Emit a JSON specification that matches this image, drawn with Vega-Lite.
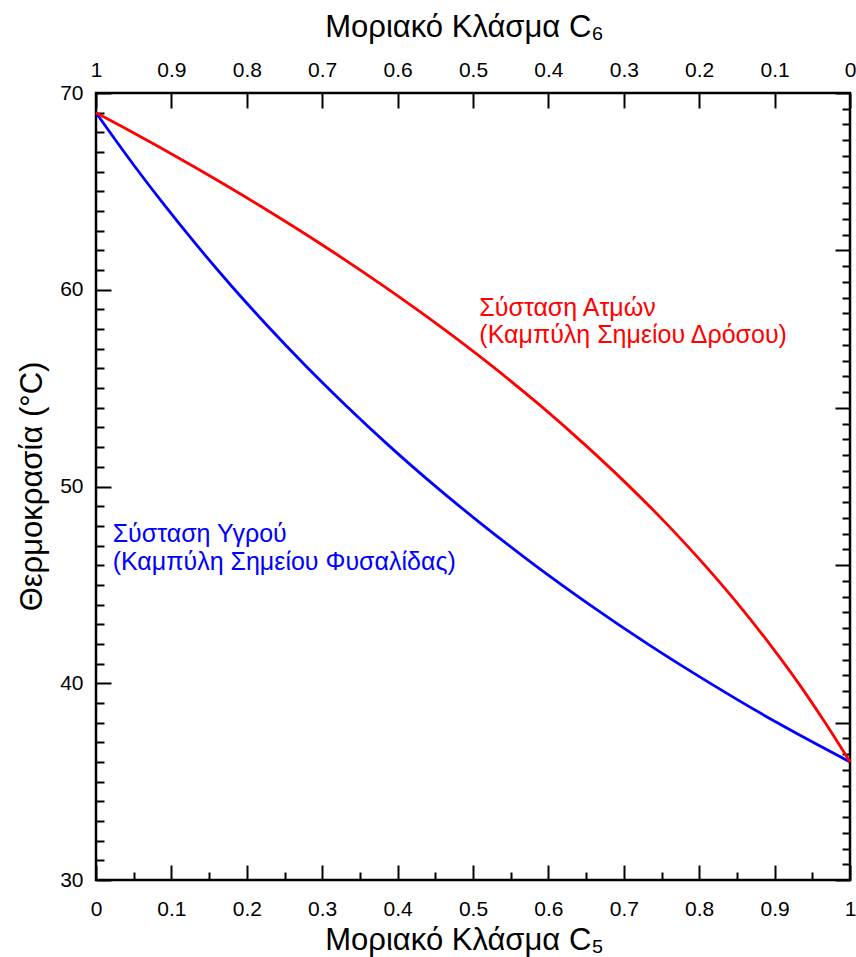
{
  "$schema": "https://vega.github.io/schema/vega-lite/v6.json",
  "width": 754,
  "height": 787,
  "autosize": {"type": "none"},
  "padding": {"left": 96, "top": 93, "right": 6, "bottom": 77},
  "background": "white",
  "config": {
    "view": {"stroke": "black", "strokeWidth": 2.5},
    "axis": {
      "labelFont": "Liberation Sans",
      "labelFontSize": 21,
      "labelColor": "black",
      "titleFont": "Liberation Sans",
      "titleFontSize": 31,
      "titleFontWeight": "normal",
      "titleColor": "black",
      "tickColor": "black",
      "tickWidth": 2,
      "domain": false,
      "grid": false,
      "labelFlush": false,
      "labelOverlap": false
    }
  },
  "datasets": {
    "curves": [
      {"C5": 0, "T": 69, "phase": "liquid"},
      {"C5": 0.0137, "T": 68.26, "phase": "liquid"},
      {"C5": 0.052, "T": 66.24, "phase": "liquid"},
      {"C5": 0.0924, "T": 64.22, "phase": "liquid"},
      {"C5": 0.135, "T": 62.2, "phase": "liquid"},
      {"C5": 0.18, "T": 60.18, "phase": "liquid"},
      {"C5": 0.2276, "T": 58.16, "phase": "liquid"},
      {"C5": 0.278, "T": 56.14, "phase": "liquid"},
      {"C5": 0.3314, "T": 54.12, "phase": "liquid"},
      {"C5": 0.3881, "T": 52.09, "phase": "liquid"},
      {"C5": 0.4484, "T": 50.07, "phase": "liquid"},
      {"C5": 0.5127, "T": 48.05, "phase": "liquid"},
      {"C5": 0.581, "T": 46.03, "phase": "liquid"},
      {"C5": 0.654, "T": 44.01, "phase": "liquid"},
      {"C5": 0.732, "T": 41.99, "phase": "liquid"},
      {"C5": 0.8159, "T": 39.97, "phase": "liquid"},
      {"C5": 0.9055, "T": 37.95, "phase": "liquid"},
      {"C5": 1, "T": 36, "phase": "liquid"},
      {"C5": 0, "T": 69, "phase": "vapor"},
      {"C5": 0.0362, "T": 68.26, "phase": "vapor"},
      {"C5": 0.1306, "T": 66.24, "phase": "vapor"},
      {"C5": 0.2196, "T": 64.22, "phase": "vapor"},
      {"C5": 0.3033, "T": 62.2, "phase": "vapor"},
      {"C5": 0.3816, "T": 60.18, "phase": "vapor"},
      {"C5": 0.4555, "T": 58.16, "phase": "vapor"},
      {"C5": 0.5246, "T": 56.14, "phase": "vapor"},
      {"C5": 0.5891, "T": 54.12, "phase": "vapor"},
      {"C5": 0.6494, "T": 52.09, "phase": "vapor"},
      {"C5": 0.7056, "T": 50.07, "phase": "vapor"},
      {"C5": 0.7581, "T": 48.05, "phase": "vapor"},
      {"C5": 0.8067, "T": 46.03, "phase": "vapor"},
      {"C5": 0.8518, "T": 44.01, "phase": "vapor"},
      {"C5": 0.8935, "T": 41.99, "phase": "vapor"},
      {"C5": 0.9323, "T": 39.97, "phase": "vapor"},
      {"C5": 0.9678, "T": 37.95, "phase": "vapor"},
      {"C5": 1, "T": 36, "phase": "vapor"}
    ],
    "labels": [
      {"C5": 0.5084, "T": 58.67, "text": "Σύσταση Ατμών", "phase": "vapor"},
      {"C5": 0.5084, "T": 57.28, "text": "(Καμπύλη Σημείου Δρόσου)", "phase": "vapor"},
      {"C5": 0.0221, "T": 47.2, "text": "Σύσταση Υγρού", "phase": "liquid"},
      {"C5": 0.0221, "T": 45.76, "text": "(Καμπύλη Σημείου Φυσαλίδας)", "phase": "liquid"}
    ],
    "dummy": [{"C5": 0, "r": 0}]
  },
  "layer": [
    {
      "data": {"name": "curves"},
      "mark": {"type": "line", "strokeWidth": 2.8, "interpolate": "monotone"},
      "encoding": {
        "x": {
          "field": "C5", "type": "quantitative",
          "scale": {"domain": [0, 1], "nice": false, "zero": false},
          "axis": {
            "orient": "bottom",
            "title": "Μοριακό Κλάσμα C₅",
            "titleBaseline": "alphabetic",
            "titleX": 368,
            "titleY": 69,
            "values": [0, 0.05, 0.1, 0.15, 0.2, 0.25, 0.3, 0.35, 0.4, 0.45, 0.5, 0.55, 0.6, 0.65, 0.7, 0.75, 0.8, 0.85, 0.9, 0.95, 1],
            "format": "~g",
            "labelExpr": "round(datum.value * 20) % 2 === 0 ? datum.label : ''",
            "tickSize": {"condition": {"test": "round(datum.value * 20) % 2 === 0", "value": -15}, "value": -8},
            "labelPadding": 33
          }
        },
        "y": {
          "field": "T", "type": "quantitative",
          "scale": {"domain": [30, 70], "nice": false, "zero": false},
          "axis": {
            "orient": "left",
            "title": "Θερμοκρασία (°C)",
            "titleBaseline": "alphabetic",
            "titleAngle": -90,
            "titleX": -55,
            "titleY": 393,
            "values": [30, 31, 32, 33, 34, 35, 36, 37, 38, 39, 40, 41, 42, 43, 44, 45, 46, 47, 48, 49, 50, 51, 52, 53, 54, 55, 56, 57, 58, 59, 60, 61, 62, 63, 64, 65, 66, 67, 68, 69, 70],
            "labelExpr": "datum.value % 10 === 0 ? datum.label : ''",
            "tickSize": {"condition": {"test": "datum.value % 10 === 0", "value": -15}, "value": -8},
            "labelPadding": 28
          }
        },
        "color": {
          "field": "phase", "type": "nominal",
          "scale": {"domain": ["vapor", "liquid"], "range": ["#ff0000", "#0000ff"]},
          "legend": null
        }
      }
    },
    {
      "data": {"name": "labels"},
      "mark": {"type": "text", "align": "left", "baseline": "alphabetic", "font": "Liberation Sans", "fontSize": 25},
      "encoding": {
        "x": {"field": "C5", "type": "quantitative", "scale": {"domain": [0, 1], "nice": false, "zero": false}, "axis": null},
        "y": {"field": "T", "type": "quantitative", "scale": {"domain": [30, 70], "nice": false, "zero": false}, "axis": null},
        "text": {"field": "text"},
        "color": {
          "field": "phase", "type": "nominal",
          "scale": {"domain": ["vapor", "liquid"], "range": ["#ff0000", "#0000ff"]},
          "legend": null
        }
      }
    },
    {
      "data": {"name": "dummy"},
      "mark": {"type": "point", "opacity": 0},
      "encoding": {
        "x": {
          "field": "C5", "type": "quantitative",
          "scale": {"domain": [0, 1], "nice": false, "zero": false},
          "axis": {
            "orient": "top",
            "title": "Μοριακό Κλάσμα C₆",
            "titleBaseline": "alphabetic",
            "titleX": 368,
            "titleY": -57,
            "values": [0, 0.1, 0.2, 0.3, 0.4, 0.5, 0.6, 0.7, 0.8, 0.9, 1],
            "labelExpr": "format(1 - datum.value, '~g')",
            "tickSize": -15,
            "labelPadding": 28
          }
        },
        "y": {
          "field": "r", "type": "quantitative",
          "scale": {"domain": [0, 1], "nice": false, "zero": false},
          "axis": {
            "orient": "right",
            "title": null,
            "labels": false,
            "values": [0, 0.02, 0.04, 0.06, 0.08, 0.1, 0.12, 0.14, 0.16, 0.18, 0.2, 0.22, 0.24, 0.26, 0.28, 0.3, 0.32, 0.34, 0.36, 0.38, 0.4, 0.42, 0.44, 0.46, 0.48, 0.5, 0.52, 0.54, 0.56, 0.58, 0.6, 0.62, 0.64, 0.66, 0.68, 0.7, 0.72, 0.74, 0.76, 0.78, 0.8, 0.82, 0.84, 0.86, 0.88, 0.9, 0.92, 0.94, 0.96, 0.98, 1],
            "tickSize": {"condition": {"test": "round(datum.value * 50) % 10 === 0", "value": -15}, "value": -8}
          }
        }
      }
    }
  ],
  "resolve": {
    "scale": {"y": "independent"},
    "axis": {"x": "independent", "y": "independent"}
  }
}
